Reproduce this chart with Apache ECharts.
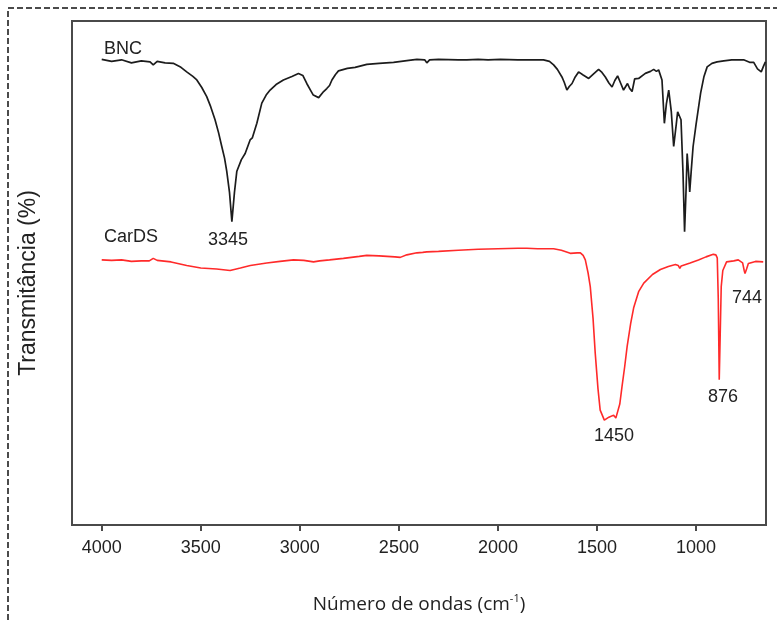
<!DOCTYPE html>
<html>
<head>
<meta charset="utf-8">
<script src="https://cdn.jsdelivr.net/npm/echarts@6/dist/echarts.min.js"></script>
<style>html,body{margin:0;padding:0;background:#fff}#c{width:777px;height:621px}</style>
</head>
<body>
<div id="c"></div>
<script>
// Wavenumber ticks (cm-1)
const xTicks = [4000, 3500, 3000, 2500, 2000, 1500, 1000];

// BNC spectrum: wavenumber (cm-1)
const bncWn = [4000,3950,3900,3850,3800,3756,3740,3720,3680,3639,3600,3571,3540,3520,3495,3470,3450,3428,3410,3394,3380,3369,3355,3343,3330,3318,3295,3276,3251,3240,3217,3192,3170,3150,3120,3083,3040,3007,2985,2965,2945,2932,2923,2905,2897,2880,2864,2850,2838,2820,2805,2760,2721,2662,2600,2527,2450,2409,2370,2359,2345,2300,2200,2157,2100,2050,1988,1900,1837,1770,1740,1719,1700,1677,1665,1652,1640,1626,1610,1593,1570,1542,1520,1492,1475,1458,1440,1424,1410,1396,1380,1366,1346,1335,1323,1310,1290,1256,1230,1214,1200,1189,1172,1160,1150,1138,1125,1113,1100,1093,1076,1066,1058,1050,1045,1038,1032,1024,1015,1000,977,960,944,920,894,860,820,780,760,730,709,690,671,660,650];
// BNC spectrum: transmittance (%)
const bncT = [92.4,92.0,92.3,91.7,92.1,91.9,91.3,92.0,91.7,91.6,90.8,89.9,89.0,88.3,86.8,85.0,83.0,80.4,77.8,75.1,72.8,70.2,66.0,60.2,66.0,70.2,72.5,73.7,76.4,76.8,79.7,83.7,85.3,86.3,87.4,88.3,89.0,89.6,89.2,87.6,86.2,85.3,85.0,84.8,84.9,86.0,86.6,87.2,88.3,89.4,90.1,90.6,90.8,91.4,91.6,91.8,92.2,92.4,92.3,91.7,92.3,92.4,92.3,92.3,92.4,92.3,92.4,92.3,92.3,92.3,92.0,91.3,90.4,88.9,87.8,86.3,87.0,87.6,88.9,89.9,89.3,88.6,89.4,90.4,89.8,88.9,87.7,86.9,88.2,89.1,87.6,86.3,87.6,86.6,86.0,88.5,88.6,89.6,90.0,90.4,90.0,90.3,88.3,79.7,83.5,86.3,82.0,75.1,79.5,82.0,80.4,70.0,58.2,67.0,73.7,70.0,66.1,70.5,75.1,79.5,85.7,89.0,90.9,91.6,91.9,92.1,92.3,92.3,92.3,91.8,91.8,90.5,89.9,91.0,91.9];

// CarDS spectrum: wavenumber (cm-1)
const carWn = [4000,3950,3900,3850,3800,3760,3740,3720,3650,3571,3500,3420,3352,3300,3250,3167,3100,3032,2980,2931,2900,2850,2780,2700,2662,2600,2520,2493,2460,2409,2380,2359,2300,2200,2100,2000,1900,1854,1800,1719,1680,1635,1600,1584,1570,1559,1545,1534,1520,1509,1495,1484,1463,1440,1416,1405,1396,1385,1374,1360,1348,1330,1315,1290,1264,1220,1180,1140,1104,1090,1082,1075,1060,1030,988,950,913,900,893,888,883,878,873,865,846,810,787,765,757,753,745,736,700,661];
// CarDS spectrum: transmittance (%)
const carT = [52.6,52.5,52.6,52.3,52.4,52.4,52.9,52.5,52.2,51.5,51.0,50.8,50.5,51.0,51.5,52.0,52.3,52.6,52.5,52.2,52.4,52.6,52.9,53.3,53.5,53.4,53.2,53.1,53.6,54.0,54.1,54.2,54.3,54.5,54.7,54.8,54.9,54.9,54.8,54.8,54.5,53.9,54.0,54.0,53.5,52.6,50.0,47.3,41.0,34.1,27.0,22.8,20.8,21.4,21.8,21.2,21.4,24.0,27.4,31.5,35.4,40.0,43.1,46.3,48.0,49.7,50.7,51.3,51.7,51.5,50.9,51.4,51.6,52.0,52.6,53.2,53.7,53.6,53.0,45.0,28.8,38.0,47.3,50.5,52.2,52.4,52.6,52.0,50.5,49.9,50.8,51.9,52.3,52.2];

// Annotations
const seriesNames = ['BNC', 'CarDS'];
const peakLabels = ['3345', '1450', '876', '744'];
const xTitle = 'Número de ondas';
const yTitle = 'Transmitância (%)';

const zip = (a, b) => a.map((v, i) => [v, b[i]]);

const chart = echarts.init(document.getElementById('c'), null, {renderer: 'canvas'});
const lblFont = {fontFamily: 'Liberation Sans, Arial, sans-serif', fontSize: 18, fill: '#222'};

chart.setOption({
  animation: false,
  backgroundColor: '#fff',
  grid: {left: 72, right: 11, top: 21, bottom: 96, show: true, borderColor: '#4a4a4a', borderWidth: 2, backgroundColor: 'transparent'},
  xAxis: {
    type: 'value', inverse: true, min: 647, max: 4150,
    axisLine: {show: false},
    splitLine: {show: false},
    axisTick: {show: true, inside: false, length: 6, lineStyle: {color: '#4a4a4a', width: 2}, customValues: xTicks},
    axisLabel: {customValues: xTicks, formatter: v => String(v), margin: 14, fontFamily: 'Liberation Sans, Arial, sans-serif', fontSize: 18, color: '#222'},
    name: xTitle + ' (cm{sup|-1})',
    nameLocation: 'middle', nameGap: 68,
    nameTextStyle: {fontFamily: 'Open Sans, sans-serif', fontSize: 19, color: '#222',
      rich: {sup: {fontFamily: 'Open Sans, sans-serif', fontSize: 11, color: '#222', verticalAlign: 'top', padding: [0, 0, 12, 0]}}}
  },
  yAxis: {
    type: 'value', min: 0, max: 100,
    axisLine: {show: false}, axisTick: {show: false}, axisLabel: {show: false}, splitLine: {show: false}
  },
  series: [
    {name: seriesNames[0], type: 'line', data: zip(bncWn, bncT), showSymbol: false, symbol: 'none',
     lineStyle: {color: '#1c1c1c', width: 1.7}},
    {name: seriesNames[1], type: 'line', data: zip(carWn, carT), showSymbol: false, symbol: 'none',
     lineStyle: {color: '#ff2a2a', width: 1.6}}
  ],
  graphic: [
    {type: 'rect', shape: {x: 8, y: 8, width: 800, height: 640}, style: {fill: 'none', stroke: '#111', lineWidth: 1.5, lineDash: [6, 3]}, silent: true},
    {type: 'text', x: 123, y: 49, style: Object.assign({text: seriesNames[0], align: 'center', verticalAlign: 'middle'}, lblFont)},
    {type: 'text', x: 131, y: 237, style: Object.assign({text: seriesNames[1], align: 'center', verticalAlign: 'middle'}, lblFont)},
    {type: 'text', x: 228, y: 240, style: Object.assign({text: peakLabels[0], align: 'center', verticalAlign: 'middle'}, lblFont)},
    {type: 'text', x: 614, y: 436, style: Object.assign({text: peakLabels[1], align: 'center', verticalAlign: 'middle'}, lblFont)},
    {type: 'text', x: 723, y: 397, style: Object.assign({text: peakLabels[2], align: 'center', verticalAlign: 'middle'}, lblFont)},
    {type: 'text', x: 747, y: 298, style: Object.assign({text: peakLabels[3], align: 'center', verticalAlign: 'middle'}, lblFont)},
    {type: 'text', x: 29, y: 283, rotation: Math.PI / 2,
     style: {text: yTitle, align: 'center', verticalAlign: 'middle', fontFamily: 'Liberation Sans, Arial, sans-serif', fontSize: 23, fill: '#222'}}
  ]
});
</script>
</body>
</html>
